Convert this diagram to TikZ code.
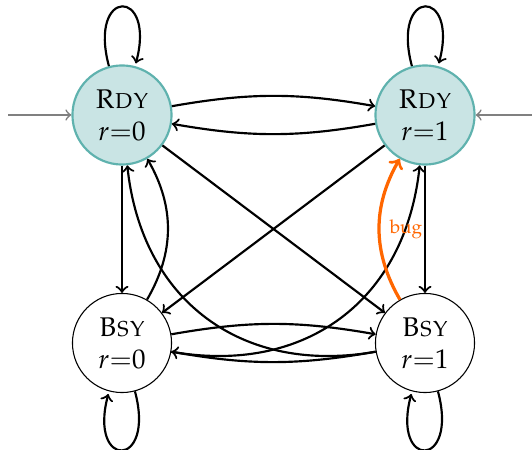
\documentclass[tikz,border=0pt]{standalone}
\usepackage[T1]{fontenc}
\usepackage{mathpazo}
\definecolor{rdyfill}{RGB}{201,228,228}
\definecolor{rdyline}{RGB}{95,178,174}
\definecolor{bugcol}{RGB}{255,102,0}
\begin{document}
\begin{tikzpicture}[
  x=0.3704pt, y=0.3704pt,
  state/.style={circle, draw, line width=0.4pt, minimum size=36.7pt,
    inner sep=0pt, align=center},
  ready/.style={state, fill=rdyfill, draw=rdyline, line width=0.8pt},
  trans/.style={->, thick},
  init/.style={->, gray, line width=0.6pt},
  bugedge/.style={->, bugcol, line width=1.2pt}
]
\useasboundingbox (0,0) rectangle (532,450);

% the four states
\node[ready] (R0) at (122,335) {\textsc{Rdy}\\$r{=}0$};
\node[ready] (R1) at (425,335) {\textsc{Rdy}\\$r{=}1$};
\node[state] (B0) at (122,107) {\textsc{Bsy}\\$r{=}0$};
\node[state] (B1) at (425,107) {\textsc{Bsy}\\$r{=}1$};

% initial arrows
\coordinate (inL) at (8,335);
\coordinate (inR) at (532,335);
\draw[init] (inL) -- (R0);
\draw[init] (inR) -- (R1);

% transitions
\draw[trans]
  (R0) edge[loop above] (R0)
  (R1) edge[loop above] (R1)
  (B0) edge[loop below] (B0)
  (B1) edge[loop below] (B1)
  (R0) edge[bend left=10] (R1)
  (R1) edge[bend left=10] (R0)
  (B0) edge[bend left=10] (B1)
  (B1) edge[bend left=10] (B0)
  (R0) edge (B0)
  (R1) edge (B1)
  (R0) edge (B1)
  (R1) edge (B0)
  (B0) edge[bend right=30] (R0)
  (B1) edge[out=190, in=-84, looseness=1.12] (R0)
  (B0) edge[out=-10, in=264, looseness=1.12] (R1);

% the faulty transition
\draw[bugedge] (B1) to[bend left=30]
  node[right, font=\scriptsize, text=bugcol] {bug} (R1);
\end{tikzpicture}
\end{document}
